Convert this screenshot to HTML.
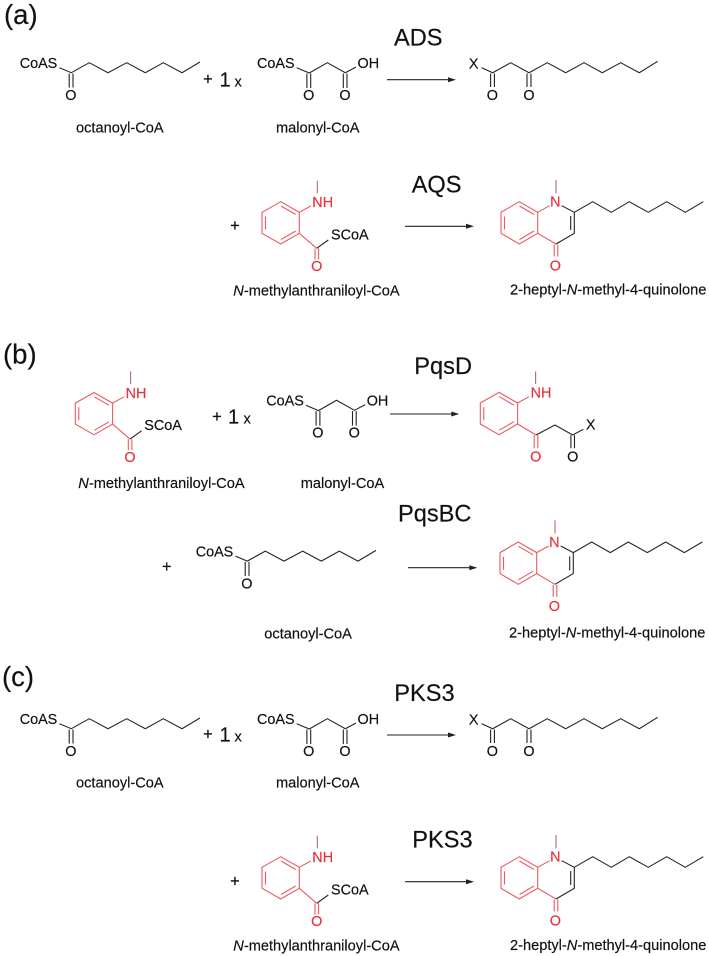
<!DOCTYPE html>
<html><head><meta charset="utf-8"><title>Diagram</title>
<style>
html,body{margin:0;padding:0;background:#fff;width:709px;height:956px;overflow:hidden}
svg{display:block;filter:blur(.25px)}
text{font-family:"Liberation Sans",Arial,sans-serif;fill:#111;stroke:#111;stroke-width:.18px;font-size:14.4px}
.l{font-size:14.6px}
.e{font-size:23.6px}
.p{font-size:27.5px}
.one{font-size:20px}
.pl{font-size:16.5px}
.m{text-anchor:middle}
.r{fill:#e5323c;stroke:#e5323c}
.k{fill:none;stroke:#222;stroke-width:1.1}
.d{fill:none;stroke:#ea5a60;stroke-width:1.1}
.g{fill:none;stroke:#c0666c;stroke-width:1.1}
.h{fill:#222}
</style></head><body>
<svg width="709" height="956" viewBox="0 0 709 956" xmlns="http://www.w3.org/2000/svg">

<!-- PANEL LABELS -->
<text class="p" x="4" y="24">(a)</text>
<text class="p" x="3" y="363.5">(b)</text>
<text class="p" x="2" y="686">(c)</text>

<!-- ========== (a) top row ========== -->
<g>
<path class="k" d="M59.5 67.7L71.3 72.7L89.3 62.7L108 72.7L126.7 62.7L145.3 72.7L163.3 62.7L182 72.7L200 62M69.2 73.5V87.5M73 73.5V87.5"/>
<text x="19.7" y="68">CoAS</text><text class="m" x="70.8" y="100">O</text>
</g>
<text class="l" x="76" y="132.7">octanoyl-CoA</text>
<text class="pl m" x="208" y="84.5">+</text><text class="one" x="219.5" y="86.7">1</text><text class="l" x="234.5" y="86.7">x</text>
<g>
<path class="k" d="M296.7 67.7L309.3 73L327.3 62.7L345.3 72.7L356 67M306.9 73.5V88M310.7 73.5V88M343.3 73.5V88M347 73.5V88"/>
<text x="257" y="68">CoAS</text><text x="357.5" y="68">OH</text>
<text class="m" x="308.7" y="100">O</text><text class="m" x="345" y="100">O</text>
</g>
<text class="l" x="276" y="132.7">malonyl-CoA</text>
<text class="e" x="394" y="45.7">ADS</text>
<path class="k" d="M387 79.7H450"/><path class="h" d="M456 79.7L448 77.2V82.2Z"/>
<g>
<path class="k" d="M481.7 67.7L492.7 72.7L510.7 62.7L529 72.7L547.3 62.7L565.7 72.7L584 62.7L602.3 72.7L620.7 62.7L639.3 72.7L657.7 61.3M490.6 73.5V87M494.4 73.5V87M527 73.5V87M531 73.5V87"/>
<text class="m" x="473.7" y="68.3">X</text><text class="m" x="492.3" y="100">O</text><text class="m" x="529" y="100">O</text>
</g>

<!-- ========== (a) lower row ========== -->
<text class="pl m" x="235" y="231.2">+</text>
<g>
<path class="d" d="M280.7 201.7L299.3 212.3V233.3L280.7 244L262 233.3V212.3ZM265.5 216.5V229.5M281 206L295.7 214.5M295.7 231L281 239.5M299.3 212.3L310.7 206M299.3 233.3L316.7 248.3M315 248.5V259.5M318.6 248.5V259.5"/>
<path class="g" d="M317.3 180.7V193.3"/><path class="k" d="M316.7 248.3L328.3 240"/>
<text class="r" x="312.3" y="207">NH</text><text x="331" y="239.5">SCoA</text><text class="r m" x="316.7" y="271">O</text>
</g>
<text class="l" x="233.3" y="295.3"><tspan font-style="italic">N</tspan>-methylanthraniloyl-CoA</text>
<text class="e" x="411.7" y="192.3">AQS</text>
<path class="k" d="M405 226.3H468"/><path class="h" d="M474 226.3L466 223.8V228.8Z"/>
<g>
<path class="d" d="M519.3 201.7L537.7 212.3V233.3L519.3 244L501 233.3V212.3ZM504.5 216.5V229.5M519.5 206L534 214.5M534 231L519.5 239.5M537.7 212.3L549.7 205.7M537.7 233.3L556 244M554.2 244.5V256.5M557.8 244.5V256.5"/>
<path class="g" d="M556 180V193.3"/>
<path class="k" d="M561.7 205.7L574.3 212.3L592.7 201.7L611.3 212.3L629.3 201.7L648.3 212.3L666.7 201.7L685.3 212.3L703.3 201.7M574.3 212.3V233.3L556 244M570.7 216V230"/>
<text class="r m" x="555.3" y="206.5">N</text><text class="r m" x="555.3" y="270.5">O</text>
</g>
<text class="l" x="510" y="294.7">2-heptyl-<tspan font-style="italic">N</tspan>-methyl-4-quinolone</text>

<!-- ========== (b) top row ========== -->
<g transform="translate(-186.7 190.8)">
<path class="d" d="M280.7 201.7L299.3 212.3V233.3L280.7 244L262 233.3V212.3ZM265.5 216.5V229.5M281 206L295.7 214.5M295.7 231L281 239.5M299.3 212.3L310.7 206M299.3 233.3L316.7 248.3M315 248.5V259.5M318.6 248.5V259.5"/>
<path class="g" d="M317.3 180.7V193.3"/><path class="k" d="M316.7 248.3L328.3 240"/>
<text class="r" x="312.3" y="207">NH</text><text x="331" y="239">SCoA</text><text class="r m" x="316.7" y="271">O</text>
</g>
<text class="l" x="78.3" y="488"><tspan font-style="italic">N</tspan>-methylanthraniloyl-CoA</text>
<text class="pl m" x="217" y="422.2">+</text><text class="one" x="228" y="423.3">1</text><text class="l" x="243.5" y="423.3">x</text>
<g transform="translate(9.2 337.6)">
<path class="k" d="M296.7 67.7L309.3 73L327.3 62.7L345.3 72.7L356 67M306.9 73.5V88M310.7 73.5V88M343.3 73.5V88M347 73.5V88"/>
<text x="257" y="68">CoAS</text><text x="357.5" y="68">OH</text>
<text class="m" x="308.7" y="100">O</text><text class="m" x="345" y="100">O</text>
</g>
<text class="l" x="300.7" y="488">malonyl-CoA</text>
<text class="e" x="414.3" y="374">PqsD</text>
<path class="k" d="M390 414H453"/><path class="h" d="M459.3 414L451.3 411.5V416.5Z"/>
<g transform="translate(218.3 190.7)">
<path class="d" d="M280.7 201.7L299.3 212.3V233.3L280.7 244L262 233.3V212.3ZM265.5 216.5V229.5M281 206L295.7 214.5M295.7 231L281 239.5M299.3 212.3L310.7 206M299.3 233.3L317.7 244.3M315.9 244.5V257.5M319.5 244.5V257.5"/>
<path class="g" d="M317.3 180.7V193.3"/>
<path class="k" d="M317.7 244.3L336.7 234.3L354.4 244.3L365 238.6M352.6 244.5V257.5M356.2 244.5V257.5"/>
<text class="r" x="312.3" y="207">NH</text><text class="r m" x="317.4" y="271">O</text><text class="m" x="354.4" y="271">O</text><text class="m" x="372.4" y="238.6">X</text>
</g>

<!-- ========== (b) lower row ========== -->
<text class="pl m" x="166.7" y="572.2">+</text>
<g transform="translate(176 488.4)">
<path class="k" d="M59.5 67.7L71.3 72.7L89.3 62.7L108 72.7L126.7 62.7L145.3 72.7L163.3 62.7L182 72.7L200 62M69.2 73.5V87.5M73 73.5V87.5"/>
<text x="19.7" y="68">CoAS</text><text class="m" x="70.8" y="100">O</text>
</g>
<text class="l" x="264.3" y="638.3">octanoyl-CoA</text>
<text class="e" x="398" y="521.7">PqsBC</text>
<path class="k" d="M408 567.7H471"/><path class="h" d="M477.3 567.7L469.3 565.2V570.2Z"/>
<g transform="translate(-1 340.3)">
<path class="d" d="M519.3 201.7L537.7 212.3V233.3L519.3 244L501 233.3V212.3ZM504.5 216.5V229.5M519.5 206L534 214.5M534 231L519.5 239.5M537.7 212.3L549.7 205.7M537.7 233.3L556 244M554.2 244.5V256.5M557.8 244.5V256.5"/>
<path class="g" d="M556 180V193.3"/>
<path class="k" d="M561.7 205.7L574.3 212.3L592.7 201.7L611.3 212.3L629.3 201.7L648.3 212.3L666.7 201.7L685.3 212.3L703.3 201.7M574.3 212.3V233.3L556 244M570.7 216V230"/>
<text class="r m" x="555.3" y="206.5">N</text><text class="r m" x="555.3" y="270.5">O</text>
</g>
<text class="l" x="509" y="637.3">2-heptyl-<tspan font-style="italic">N</tspan>-methyl-4-quinolone</text>

<!-- ========== (c) top row ========== -->
<g transform="translate(0 656)">
<path class="k" d="M59.5 67.7L71.3 72.7L89.3 62.7L108 72.7L126.7 62.7L145.3 72.7L163.3 62.7L182 72.7L200 62M69.2 73.5V87.5M73 73.5V87.5"/>
<text x="19.7" y="68">CoAS</text><text class="m" x="70.8" y="100">O</text>
</g>
<text class="l" x="76" y="787.7">octanoyl-CoA</text>
<text class="pl m" x="208" y="739.5">+</text><text class="one" x="219.5" y="741.7">1</text><text class="l" x="234.5" y="741.7">x</text>
<g transform="translate(0 656)">
<path class="k" d="M296.7 67.7L309.3 73L327.3 62.7L345.3 72.7L356 67M306.9 73.5V88M310.7 73.5V88M343.3 73.5V88M347 73.5V88"/>
<text x="257" y="68">CoAS</text><text x="357.5" y="68">OH</text>
<text class="m" x="308.7" y="100">O</text><text class="m" x="345" y="100">O</text>
</g>
<text class="l" x="276" y="787.7">malonyl-CoA</text>
<text class="e" x="394.3" y="701">PKS3</text>
<path class="k" d="M387 735H450"/><path class="h" d="M456 735L448 732.5V737.5Z"/>
<g transform="translate(0 656)">
<path class="k" d="M481.7 67.7L492.7 72.7L510.7 62.7L529 72.7L547.3 62.7L565.7 72.7L584 62.7L602.3 72.7L620.7 62.7L639.3 72.7L657.7 61.3M490.6 73.5V87M494.4 73.5V87M527 73.5V87M531 73.5V87"/>
<text class="m" x="473.7" y="68.3">X</text><text class="m" x="492.3" y="100">O</text><text class="m" x="529" y="100">O</text>
</g>

<!-- ========== (c) lower row ========== -->
<text class="pl m" x="235" y="886.5">+</text>
<g transform="translate(0 655)">
<path class="d" d="M280.7 201.7L299.3 212.3V233.3L280.7 244L262 233.3V212.3ZM265.5 216.5V229.5M281 206L295.7 214.5M295.7 231L281 239.5M299.3 212.3L310.7 206M299.3 233.3L316.7 248.3M315 248.5V259.5M318.6 248.5V259.5"/>
<path class="g" d="M317.3 180.7V193.3"/><path class="k" d="M316.7 248.3L328.3 240"/>
<text class="r" x="312.3" y="207">NH</text><text x="331" y="239.5">SCoA</text><text class="r m" x="316.7" y="271">O</text>
</g>
<text class="l" x="233.3" y="950.5"><tspan font-style="italic">N</tspan>-methylanthraniloyl-CoA</text>
<text class="e" x="412.3" y="847.3">PKS3</text>
<path class="k" d="M405 881.7H468"/><path class="h" d="M474 881.7L466 879.2V884.2Z"/>
<g transform="translate(0 655)">
<path class="d" d="M519.3 201.7L537.7 212.3V233.3L519.3 244L501 233.3V212.3ZM504.5 216.5V229.5M519.5 206L534 214.5M534 231L519.5 239.5M537.7 212.3L549.7 205.7M537.7 233.3L556 244M554.2 244.5V256.5M557.8 244.5V256.5"/>
<path class="g" d="M556 180V193.3"/>
<path class="k" d="M561.7 205.7L574.3 212.3L592.7 201.7L611.3 212.3L629.3 201.7L648.3 212.3L666.7 201.7L685.3 212.3L703.3 201.7M574.3 212.3V233.3L556 244M570.7 216V230"/>
<text class="r m" x="555.3" y="206.5">N</text><text class="r m" x="555.3" y="270.5">O</text>
</g>
<text class="l" x="510" y="950">2-heptyl-<tspan font-style="italic">N</tspan>-methyl-4-quinolone</text>

</svg>
</body></html>
